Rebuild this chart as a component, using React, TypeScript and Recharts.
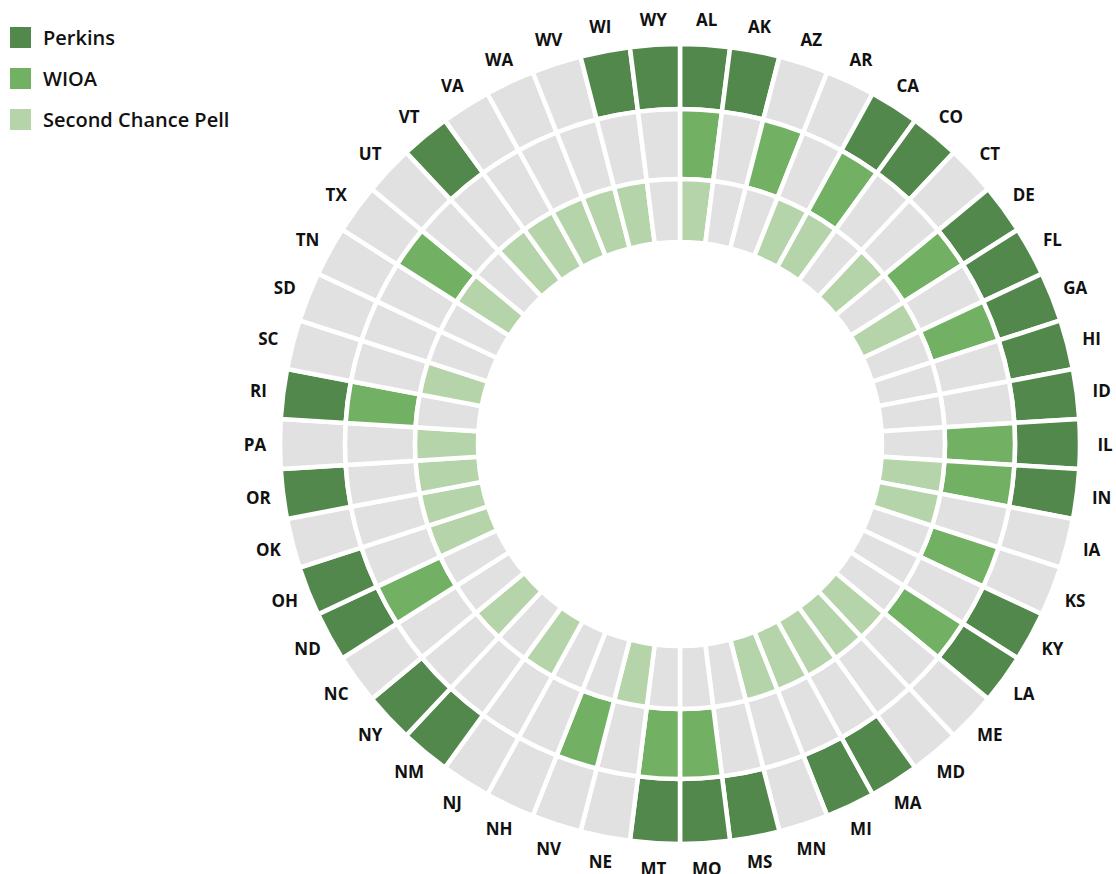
import { PieChart, Pie, Cell } from "recharts";

const states = [
  "AL", "AK", "AZ", "AR", "CA", "CO", "CT", "DE", "FL", "GA",
  "HI", "ID", "IL", "IN", "IA", "KS", "KY", "LA", "ME", "MD",
  "MA", "MI", "MN", "MS", "MO", "MT", "NE", "NV", "NH", "NJ",
  "NM", "NY", "NC", "ND", "OH", "OK", "OR", "PA", "RI", "SC",
  "SD", "TN", "TX", "UT", "VT", "VA", "WA", "WV", "WI", "WY",
];

// 1 = state uses the funding source, 0 = does not
const perkins = [
  1, 1, 0, 0, 1, 1, 0, 1, 1, 1,
  1, 1, 1, 1, 0, 0, 1, 1, 0, 0,
  1, 1, 0, 1, 1, 1, 0, 0, 0, 0,
  1, 1, 0, 1, 1, 0, 1, 0, 1, 0,
  0, 0, 0, 0, 1, 0, 0, 0, 1, 1,
];
const wioa = [
  1, 0, 1, 0, 1, 0, 0, 1, 0, 1,
  0, 0, 1, 1, 0, 1, 0, 1, 0, 0,
  0, 0, 0, 0, 1, 1, 0, 1, 0, 0,
  0, 0, 0, 1, 0, 0, 0, 0, 1, 0,
  0, 0, 1, 0, 0, 0, 0, 0, 0, 0,
];
const pell = [
  1, 0, 0, 1, 1, 0, 1, 0, 1, 0,
  0, 0, 0, 1, 1, 0, 0, 0, 1, 1,
  1, 1, 1, 0, 0, 0, 1, 0, 0, 1,
  0, 1, 0, 0, 1, 1, 1, 1, 0, 1,
  0, 0, 1, 0, 1, 1, 1, 1, 1, 0,
];

const series = ["Perkins", "WIOA", "Second Chance Pell"];
const colors = ["#52884c", "#72b064", "#b5d4a9"];
const grey = "#e1e1e1";

const data = states.map((s, i) => ({
  state: s,
  value: 1,
  perkins: perkins[i],
  wioa: wioa[i],
  pell: pell[i],
}));

const CX = 680;
const CY = 444;
const RAD = Math.PI / 180;
const FONT = "'Open Sans', sans-serif";

const renderLabel = (props: any) => {
  const { midAngle, payload } = props;
  const r = 425;
  const x = CX + r * Math.cos(-midAngle * RAD);
  const y = CY + r * Math.sin(-midAngle * RAD);
  return (
    <text
      x={x}
      y={y}
      textAnchor="middle"
      dominantBaseline="central"
      fill="#111"
      fontSize={17}
      fontWeight={700}
      fontFamily={FONT}
    >
      {payload.state}
    </text>
  );
};

export default function App() {
  return (
    <div style={{ position: "absolute", left: 0, top: 0, width: 1116, height: 874, background: "#fff" }}>
      <PieChart width={1116} height={874} margin={{ top: 0, right: 0, bottom: 0, left: 0 }}>
        {/* Perkins - outer ring */}
        <Pie
          data={data}
          dataKey="value"
          nameKey="state"
          cx={CX}
          cy={CY}
          innerRadius={335}
          outerRadius={400}
          startAngle={90}
          endAngle={-270}
          stroke="#fff"
          strokeWidth={4.5}
          label={renderLabel}
          labelLine={false}
          isAnimationActive={false}
        >
          {data.map((d, i) => (
            <Cell key={i} fill={d.perkins ? colors[0] : grey} />
          ))}
        </Pie>
        {/* WIOA - middle ring */}
        <Pie
          data={data}
          dataKey="value"
          nameKey="state"
          cx={CX}
          cy={CY}
          innerRadius={265}
          outerRadius={335}
          startAngle={90}
          endAngle={-270}
          stroke="#fff"
          strokeWidth={4.5}
          isAnimationActive={false}
        >
          {data.map((d, i) => (
            <Cell key={i} fill={d.wioa ? colors[1] : grey} />
          ))}
        </Pie>
        {/* Second Chance Pell - inner ring */}
        <Pie
          data={data}
          dataKey="value"
          nameKey="state"
          cx={CX}
          cy={CY}
          innerRadius={202}
          outerRadius={265}
          startAngle={90}
          endAngle={-270}
          stroke="#fff"
          strokeWidth={4.5}
          isAnimationActive={false}
        >
          {data.map((d, i) => (
            <Cell key={i} fill={d.pell ? colors[2] : grey} />
          ))}
        </Pie>
      </PieChart>

      <div style={{ position: "absolute", left: 10, top: 27, fontFamily: FONT }}>
        {series.map((name, i) => (
          <div key={name} style={{ display: "flex", alignItems: "center", height: 21, marginBottom: 20 }}>
            <span style={{ width: 21, height: 21, background: colors[i], display: "inline-block" }} />
            <span style={{ marginLeft: 12, fontSize: 20, fontWeight: 600, color: "#111" }}>{name}</span>
          </div>
        ))}
      </div>
    </div>
  );
}
